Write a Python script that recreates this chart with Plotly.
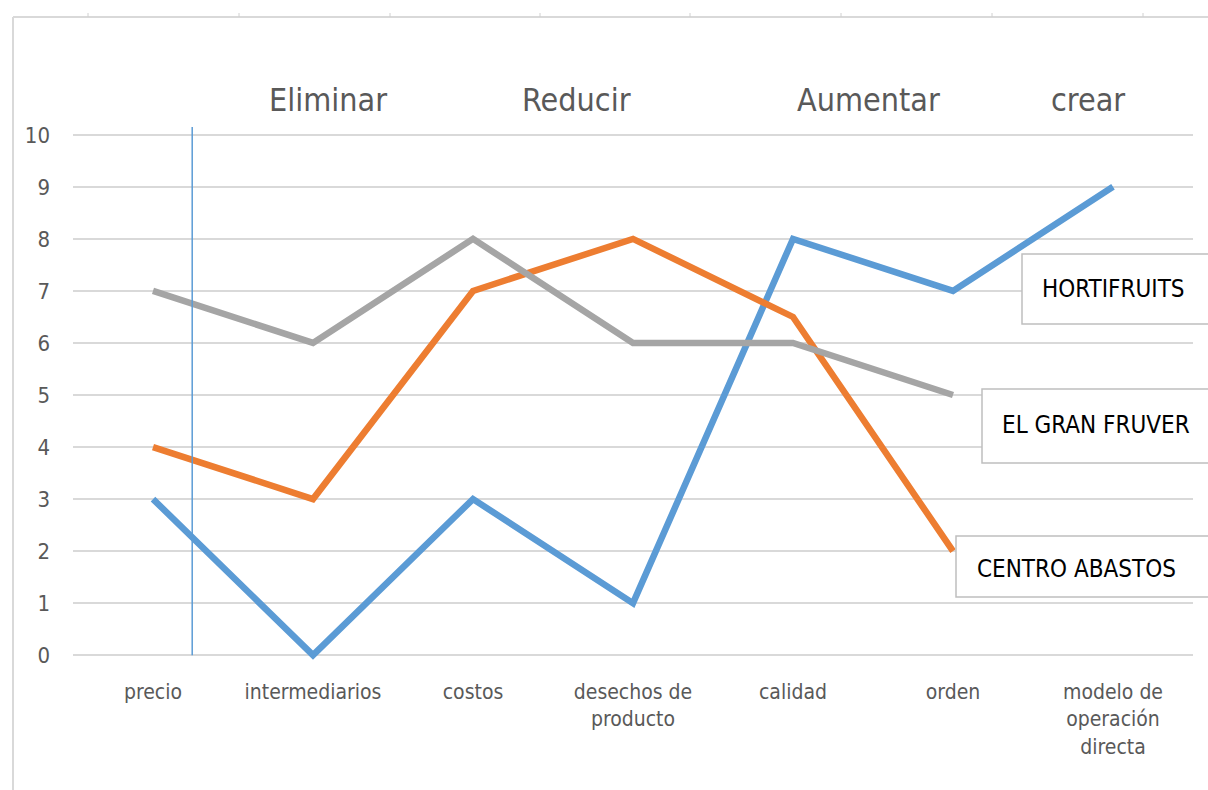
import plotly.graph_objects as go

categories = ["precio", "intermediarios", "costos", "desechos de<br>producto",
              "calidad", "orden", "modelo de<br>operación<br>directa"]
hortifruits = [3, 0, 3, 1, 8, 7, 9]
centro_abastos = [4, 3, 7, 8, 6.5, 2, None]
gran_fruver = [7, 6, 8, 6, 6, 5, None]
y_ticks = [0, 1, 2, 3, 4, 5, 6, 7, 8, 9, 10]
stage_labels = ["Eliminar", "Reducir", "Aumentar", "crear"]
stage_x = [1.094, 2.644, 4.469, 5.844]
series_names = ["HORTIFRUITS", "EL GRAN FRUVER", "CENTRO ABASTOS"]

W, H = 1208, 790
ML, MR, MT, MB = 73, 15, 127, 127
FONT = "Liberation Sans Narrow, DejaVu Sans Condensed, Arial, sans-serif"
X_MIN, X_MAX = -0.5, 6.5


def px(x):
    return (x - ML) / (W - ML - MR)


def py(y):
    return (H - MB - y) / (H - MT - MB)


def dx(v):
    return (v - X_MIN) / (X_MAX - X_MIN)


fig = go.Figure()
x_idx = list(range(len(categories)))
fig.add_trace(go.Scatter(x=x_idx, y=hortifruits, mode="lines", name="HORTIFRUITS",
                         line=dict(color="#5B9BD5", width=6.5)))
fig.add_trace(go.Scatter(x=x_idx, y=centro_abastos, mode="lines", name="CENTRO ABASTOS",
                         line=dict(color="#ED7D31", width=6.5)))
fig.add_trace(go.Scatter(x=x_idx, y=gran_fruver, mode="lines", name="EL GRAN FRUVER",
                         line=dict(color="#A5A5A5", width=6.5)))

shapes = []
shapes.append(dict(type="line", xref="x", yref="y", x0=0.245, x1=0.245, y0=0, y1=10.15,
                   line=dict(color="#5B9BD5", width=1.5), layer="above"))
shapes.append(dict(type="line", xref="paper", yref="paper", x0=px(13), x1=px(1215),
                   y0=py(17), y1=py(17), line=dict(color="#D9D9D9", width=2)))
shapes.append(dict(type="line", xref="paper", yref="paper", x0=px(13), x1=px(13),
                   y0=py(17), y1=py(800), line=dict(color="#D9D9D9", width=2)))
for tx in [88, 239, 390, 540, 690, 841, 992, 1143]:
    shapes.append(dict(type="line", xref="paper", yref="paper", x0=px(tx), x1=px(tx),
                       y0=py(13), y1=py(17), line=dict(color="#D0D0D0", width=1)))

boxes = [(1022, 254, 1240, 324), (982, 389, 1240, 463), (956, 536, 1240, 597)]
for (x0, y0, x1, y1) in boxes:
    shapes.append(dict(type="rect", xref="paper", yref="paper", x0=px(x0), x1=px(x1),
                       y0=py(y1), y1=py(y0), fillcolor="white",
                       line=dict(color="#BFBFBF", width=1.5), layer="above"))

annotations = []
for lab, sx in zip(stage_labels, stage_x):
    annotations.append(dict(x=dx(sx), y=py(100), xref="paper", yref="paper", text=lab,
                            showarrow=False,
                            font=dict(family=FONT, size=32, color="#595959"),
                            xanchor="center", yanchor="middle"))
text_pos = [(1040, 289), (1000, 425), (975, 569)]
for name, (tx, ty) in zip(series_names, text_pos):
    annotations.append(dict(x=px(tx), y=py(ty), xref="paper", yref="paper", text=name,
                            showarrow=False, font=dict(family=FONT, size=24, color="#000000"),
                            xanchor="left", yanchor="middle"))

fig.update_layout(
    width=W, height=H,
    margin=dict(l=ML, r=MR, t=MT, b=MB),
    paper_bgcolor="white", plot_bgcolor="white",
    showlegend=False,
    shapes=shapes,
    annotations=annotations,
    font=dict(family=FONT, color="#595959"),
    xaxis=dict(range=[X_MIN, X_MAX], tickmode="array", tickvals=x_idx, ticktext=categories,
               showgrid=False, zeroline=False, showline=False, ticks="",
               tickfont=dict(family=FONT, size=21, color="#595959"),
               ticklabelstandoff=14, fixedrange=True),
    yaxis=dict(range=[-0.15, 10.15], tickmode="array", tickvals=y_ticks,
               showgrid=True, gridcolor="#D9D9D9", gridwidth=2,
               zeroline=True, zerolinecolor="#D9D9D9", zerolinewidth=2,
               showline=False, ticks="",
               tickfont=dict(family=FONT, size=22, color="#595959"),
               ticklabelstandoff=22, fixedrange=True),
)

fig.write_html("out.html")
